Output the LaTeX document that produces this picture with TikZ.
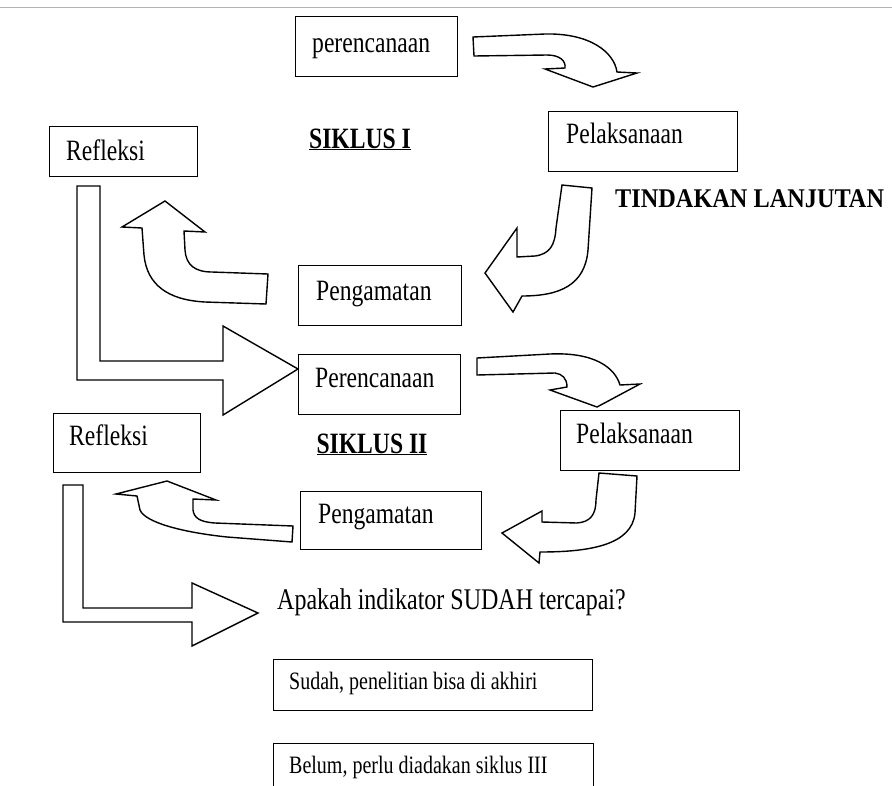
\documentclass[tikz,border=0pt]{standalone}
\usepackage{fontspec}
\setmainfont{Liberation Serif}[FakeStretch=0.8]
\newfontfamily\widefont{Liberation Serif}[FakeStretch=0.9]
\begin{document}
\begin{tikzpicture}[x=1pt,y=-1pt,
  box/.style={draw=black, line width=1.4pt, anchor=north west, inner sep=0pt},
  lbl/.style={font=\fontsize{29.5}{32}\selectfont, inner sep=0pt, anchor=base west},
  lblsmall/.style={font=\fontsize{25}{28}\selectfont, inner sep=0pt, anchor=base west},
  title/.style={font=\fontsize{29.5}{32}\selectfont\bfseries, inner sep=0pt, anchor=base},
  blockarrow/.style={draw=black, line width=1.4pt, fill=white, line join=miter}]
\clip (0,0) rectangle (892,785);
\fill[white] (0,0) rectangle (892,785);
% scan edge line
\draw[gray!60, line width=1pt] (0,7) -- (892,7);

% ---------- SIKLUS I ----------
\node[box, minimum width=162pt, minimum height=60pt] (b1) at (295,16) {};
\node[lbl] (t1) at (312,52) {perencanaan};
\node[box, minimum width=189pt, minimum height=60pt] (b2) at (548,111) {};
\node[lbl] (t2) at (566,143) {Pelaksanaan};
\node[box, minimum width=148pt, minimum height=50pt] (b3) at (49,126) {};
\node[lbl] (t3) at (66,160) {Refleksi};
\node[box, minimum width=163pt, minimum height=60pt] (b4) at (298,265) {};
\node[lbl] (t4) at (316,300) {Pengamatan};

\node[title] (s1) at (360,148) {\underline{SIKLUS I}};
\node[font=\fontsize{27}{30}\selectfont\widefont\bfseries, inner sep=0pt, anchor=base west] (tl) at (615,207) {TINDAKAN LANJUTAN};

% arrow perencanaan -> Pelaksanaan
\draw[blockarrow] (473,37) -- (545,34) .. controls (590,33) and (614,52) .. (617,72)
  -- (637,73) -- (593,87) -- (545,69) -- (565,68)
  .. controls (566,61) and (560,55) .. (547,55) -- (474,56) -- cycle;
% arrow Pelaksanaan -> Pengamatan
\draw[blockarrow] (562,185) -- (592,188) -- (588,250)
  .. controls (585,285) and (560,296) .. (522,296)
  -- (513,312) -- (485,273) -- (517,228) -- (517,257) -- (535,256)
  .. controls (550,254) and (555,245) .. (556,228) -- cycle;
% arrow Pengamatan -> Refleksi
\draw[blockarrow] (142,228) -- (122,227) -- (165,201) -- (205,232) -- (184,231)
  -- (185,250) .. controls (186,265) and (195,272) .. (212,272) -- (268,274)
  -- (266,304) -- (205,302) .. controls (168,300) and (147,285) .. (144,255) -- cycle;
% L arrow Refleksi -> Perencanaan
\draw[blockarrow] (77,186) -- (100,186) -- (100,361) -- (223,361) -- (223,326)
  -- (298,369) -- (223,415) -- (223,380) -- (77,380) -- cycle;

% ---------- SIKLUS II ----------
\node[box, minimum width=162pt, minimum height=60pt] (b5) at (298,354) {};
\node[lbl] (t5) at (315,387) {Perencanaan};
\node[box, minimum width=179pt, minimum height=60pt] (b6) at (560,410) {};
\node[lbl] (t6) at (576,443) {Pelaksanaan};
\node[box, minimum width=147pt, minimum height=59pt] (b7) at (53,413) {};
\node[lbl] (t7) at (69,445) {Refleksi};
\node[box, minimum width=181pt, minimum height=58pt] (b8) at (300,491) {};
\node[lbl] (t8) at (318,523) {Pengamatan};

\node[title] (s2) at (372,453) {\underline{SIKLUS II}};

% arrow Perencanaan -> Pelaksanaan
\draw[blockarrow] (477,358) -- (550,354) .. controls (595,352) and (615,368) .. (620,385)
  -- (640,384) -- (597,407) -- (550,390) -- (567,387)
  .. controls (567,378) and (562,374) .. (555,373) -- (477,375) -- cycle;
% arrow Pelaksanaan -> Pengamatan
\draw[blockarrow] (599,473) -- (637,476) -- (635,513)
  .. controls (632,545) and (590,552) .. (540,552)
  -- (539,563) -- (502,533) -- (542,511) -- (542,522) -- (577,523)
  .. controls (590,522) and (596,515) .. (596,500) -- cycle;
% arrow Pengamatan -> Refleksi
\draw[blockarrow] (137,496) -- (116,494) -- (167,481) -- (216,500) -- (193,499)
  -- (193,510) .. controls (194,518) and (200,522) .. (215,523) -- (293,526)
  -- (292,542) -- (227,537) .. controls (180,532) and (145,522) .. (140,510) -- cycle;
% L arrow Refleksi -> question
\draw[blockarrow] (63,485) -- (83,485) -- (83,608) -- (192,608) -- (192,583)
  -- (258,613) -- (192,646) -- (192,622) -- (63,622) -- cycle;

% ---------- decision ----------
\node[font=\fontsize{30}{33}\selectfont, inner sep=0pt, anchor=base west] (q) at (277,609) {Apakah indikator SUDAH tercapai?};
\node[box, minimum width=319pt, minimum height=51pt] (b9) at (273,659) {};
\node[lblsmall] (t9) at (289,689) {Sudah, penelitian bisa di akhiri};
\node[box, minimum width=320pt, minimum height=60pt] (b10) at (273,743) {};
\node[lblsmall] (t10) at (289,773) {Belum, perlu diadakan siklus III};
\end{tikzpicture}
\end{document}
